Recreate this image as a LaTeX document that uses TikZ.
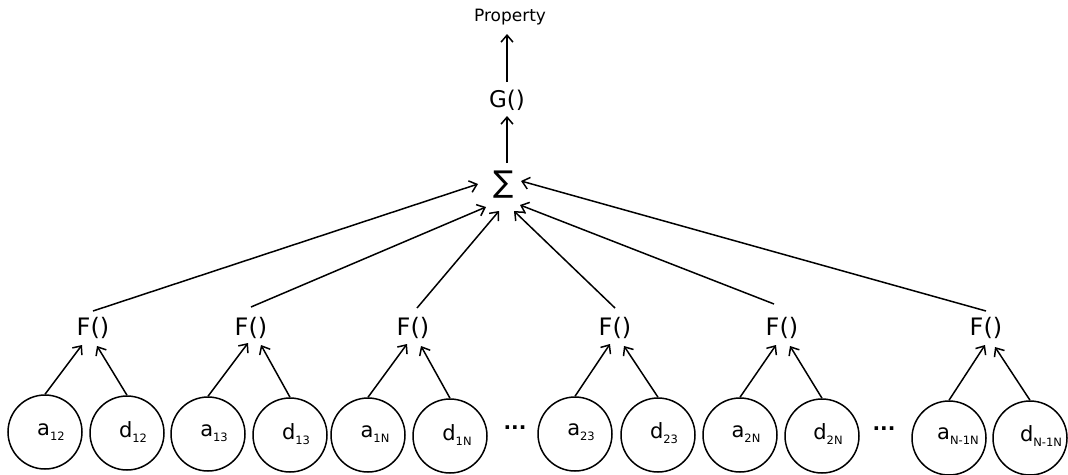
\documentclass[tikz,border=0pt]{standalone}
\usepackage{fontspec}
\setmainfont{DejaVu Sans}
\usetikzlibrary{calc,arrows.meta}
\begin{document}
\begin{tikzpicture}[x=1pt,y=-1pt,
  every node/.style={inner sep=0pt},
  leaf/.style={draw,circle,line width=1.5pt,minimum size=74pt},
  fnode/.style={font=\fontsize{24}{26}\selectfont},
  lbl/.style={font=\fontsize{21}{22}\selectfont},
  con/.style={line width=1.5pt,-{Straight Barb[length=7pt,width=12pt]}},
  dots/.style={font=\fontsize{20}{22}\selectfont\bfseries}
]
\useasboundingbox (0,0) rectangle (1068,474);
\newcommand{\sub}[1]{\raisebox{-5pt}{\fontsize{11.5}{12}\selectfont #1}}
% top
\node (P) at (510,17) {\fontsize{17}{19}\selectfont Property};
\node (G) at (507,100) {\fontsize{23}{25}\selectfont G()};
\node (S) at (504,185) {\fontsize{30}{32}\selectfont ∑};
\draw[con] ($(G.center)+(0,-18)$) -- ($(P.center)+(-3,17)$);
\draw[con] ($(S.center)+(3,-22)$) -- ($(G.center)+(0,16)$);
% F nodes
\node[fnode] (F1) at (93,328) {F()};
\node[fnode] (F2) at (251,328) {F()};
\node[fnode] (F3) at (413,328) {F()};
\node[fnode] (F4) at (615,328) {F()};
\node[fnode] (F5) at (782,328) {F()};
\node[fnode] (F6) at (986,328) {F()};
% leaves
\node[leaf] (a12) at (45,432) {};
\node[leaf] (d12) at (127,433) {};
\node[leaf] (a13) at (208,434) {};
\node[leaf] (d13) at (290,435) {};
\node[leaf] (a1N) at (368,435) {};
\node[leaf] (d1N) at (450,436) {};
\node[leaf] (a23) at (575,434) {};
\node[leaf] (d23) at (658,435) {};
\node[leaf] (a2N) at (740,435) {};
\node[leaf] (d2N) at (822,436) {};
\node[leaf] (aN) at (949,438) {};
\node[leaf] (dN) at (1030,438) {};
% labels
\node[lbl] (la12) at (51,432) {a\sub{12}};
\node[lbl] (ld12) at (133,432) {d\sub{12}};
\node[lbl] (la13) at (214,433) {a\sub{13}};
\node[lbl] (ld13) at (296,434) {d\sub{13}};
\node[lbl] (la1N) at (375,434) {a\sub{1N}};
\node[lbl] (ld1N) at (457,435) {d\sub{1N}};
\node[lbl] (la23) at (581,432) {a\sub{23}};
\node[lbl] (ld23) at (664,433) {d\sub{23}};
\node[lbl] (la2N) at (746,434) {a\sub{2N}};
\node[lbl] (ld2N) at (828,434) {d\sub{2N}};
\node[lbl] (laN) at (958,436) {a\sub{N-1N}};
\node[lbl] (ldN) at (1041,436) {d\sub{N-1N}};
\node[dots] (dots1) at (515,428) {...};
\node[dots] (dots2) at (884,429) {...};
% leaf -> F
\draw[con] (a12.north) -- ($(F1.center)+(-11,17)$);
\draw[con] (d12.north) -- ($(F1.center)+(4,18)$);
\draw[con] (a13.north) -- ($(F2.center)+(-3,15)$);
\draw[con] (d13.north) -- ($(F2.center)+(10,17)$);
\draw[con] (a1N.north) -- ($(F3.center)+(-6,16)$);
\draw[con] (d1N.north) -- ($(F3.center)+(8,18)$);
\draw[con] (a23.north) -- ($(F4.center)+(-5,16)$);
\draw[con] (d23.north) -- ($(F4.center)+(9,18)$);
\draw[con] (a2N.north) -- ($(F5.center)+(-6,17)$);
\draw[con] (d2N.north) -- ($(F5.center)+(8,18)$);
\draw[con] (aN.north) -- ($(F6.center)+(-1,17)$);
\draw[con] (dN.north) -- ($(F6.center)+(9,19)$);
% F -> Sigma
\draw[con] ($(F1.center)+(0,-17)$) -- ($(S.center)+(-26,-1)$);
\draw[con] ($(F2.center)+(0,-21)$) -- ($(S.center)+(-18,22)$);
\draw[con] ($(F3.center)+(4,-20)$) -- ($(S.center)+(-5,26)$);
\draw[con] ($(F4.center)+(0,-20)$) -- ($(S.center)+(10,26)$);
\draw[con] ($(F5.center)+(-8,-24)$) -- ($(S.center)+(16,20)$);
\draw[con] ($(F6.center)+(0,-17)$) -- ($(S.center)+(17,-4)$);
\end{tikzpicture}
\end{document}
